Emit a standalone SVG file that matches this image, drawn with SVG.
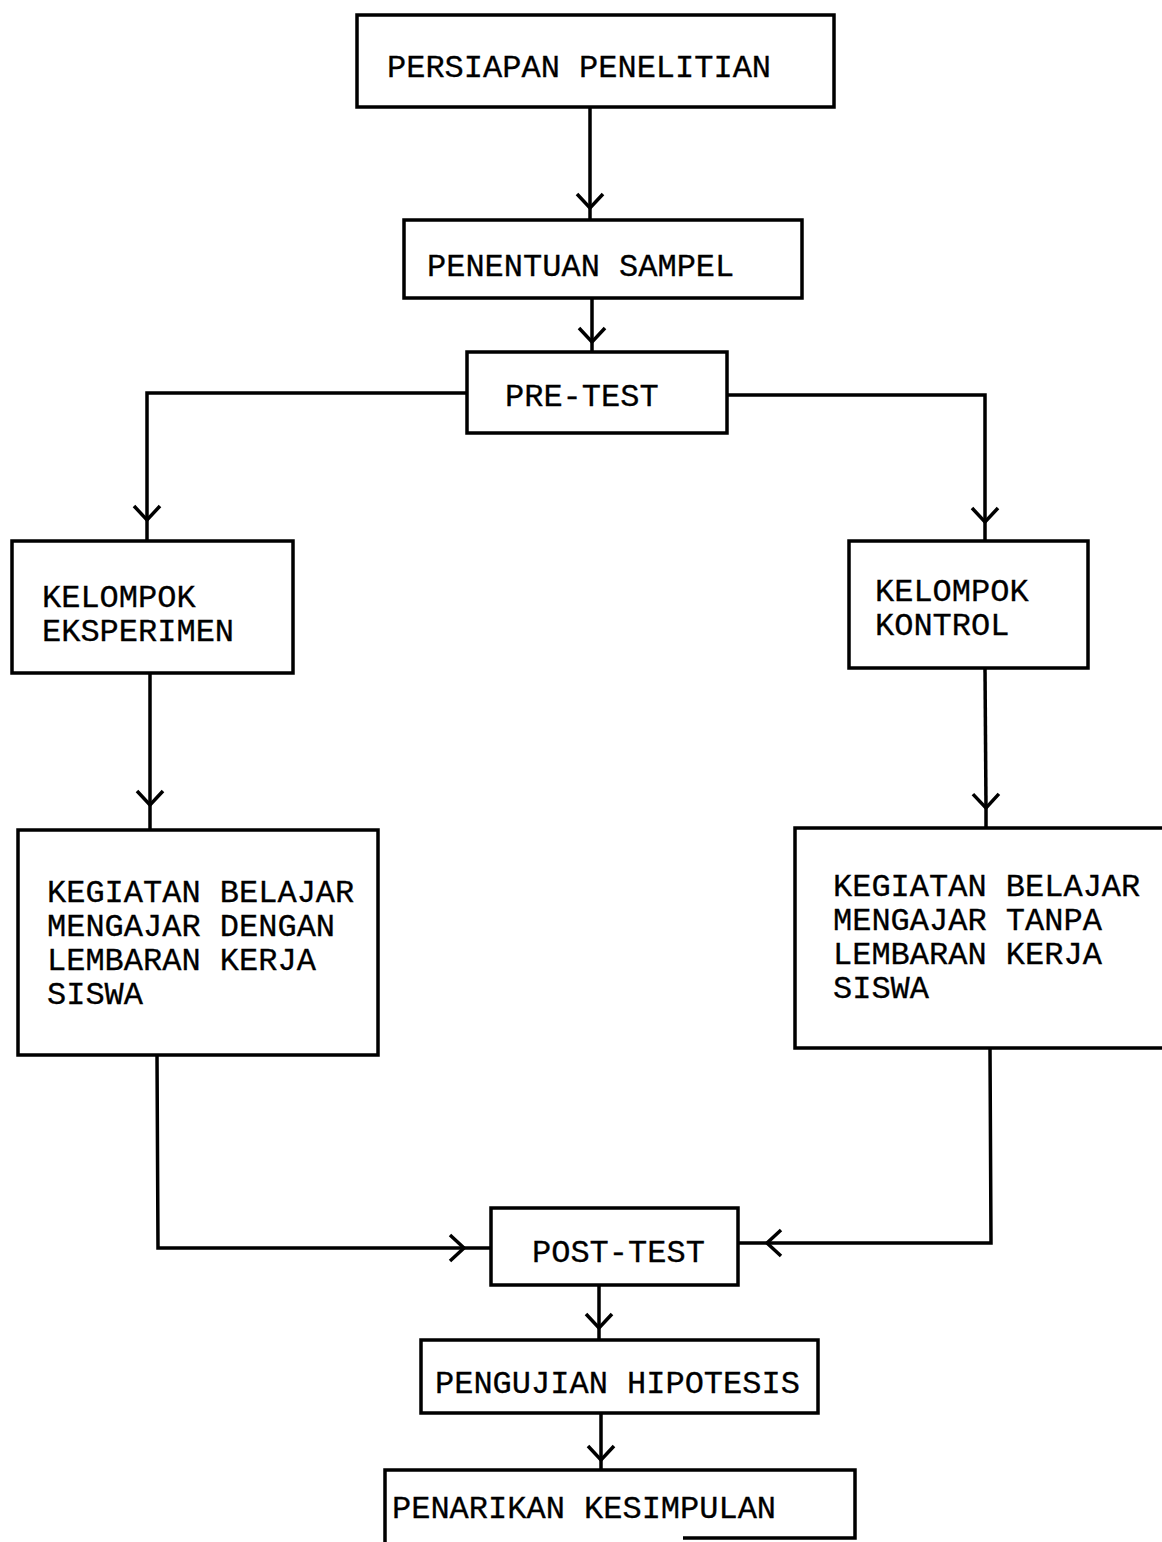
<svg xmlns="http://www.w3.org/2000/svg" width="1162" height="1542" viewBox="0 0 1162 1542">
<style>
.box{fill:#fff;stroke:#000;stroke-width:3.5}
.bx{fill:none;stroke:#000;stroke-width:3.5}
.t{font-family:"Liberation Mono","Courier New",monospace;font-size:32px;fill:#000;stroke:#000;stroke-width:0.3}
.c{fill:none;stroke:#000;stroke-width:3.5}
</style>
<defs>
<marker id="ah" markerUnits="userSpaceOnUse" orient="auto" overflow="visible" markerWidth="1" markerHeight="1" refX="0" refY="0">
<path d="M-14,-13 L0,0 L-14,13" fill="none" stroke="#000" stroke-width="3.5"/>
</marker>
</defs>
<rect width="1162" height="1542" fill="#fff"/>
<g id="connectors">
<path class="c" d="M590,107 L590,208" marker-end="url(#ah)"/><path class="c" d="M590,208 L590,220"/>
<path class="c" d="M592,298 L592,342" marker-end="url(#ah)"/><path class="c" d="M592,342 L592,352"/>
<path class="c" d="M467,393 L147,393 L147,520" marker-end="url(#ah)"/><path class="c" d="M147,520 L147,541"/>
<path class="c" d="M727,395 L985,395 L985,522" marker-end="url(#ah)"/><path class="c" d="M985,522 L985,541"/>
<path class="c" d="M150,673 L150,805" marker-end="url(#ah)"/><path class="c" d="M150,805 L150,830"/>
<path class="c" d="M985,668 L986,808" marker-end="url(#ah)"/><path class="c" d="M986,808 L986,828"/>
<path class="c" d="M157,1055 L158,1248 L464,1248" marker-end="url(#ah)"/><path class="c" d="M464,1248 L491,1248"/>
<path class="c" d="M990,1048 L991,1243 L767,1243" marker-end="url(#ah)"/><path class="c" d="M767,1243 L738,1243"/>
<path class="c" d="M599,1285 L599,1328" marker-end="url(#ah)"/><path class="c" d="M599,1328 L599,1340"/>
<path class="c" d="M601,1413 L601,1460" marker-end="url(#ah)"/><path class="c" d="M601,1460 L601,1470"/>
</g>
<g id="n1"><rect class="box" x="357" y="15" width="477" height="92"/><text class="t" x="387" y="77">PERSIAPAN PENELITIAN</text></g>
<g id="n2"><rect class="box" x="404" y="220" width="398" height="78"/><text class="t" x="427" y="276">PENENTUAN SAMPEL</text></g>
<g id="n3"><rect class="box" x="467" y="352" width="260" height="81"/><text class="t" x="505" y="406">PRE-TEST</text></g>
<g id="n4"><rect class="box" x="12" y="541" width="281" height="132"/><text class="t" x="42" y="607">KELOMPOK</text><text class="t" x="42" y="641">EKSPERIMEN</text></g>
<g id="n5"><rect class="box" x="849" y="541" width="239" height="127"/><text class="t" x="875" y="601">KELOMPOK</text><text class="t" x="875" y="635">KONTROL</text></g>
<g id="n6"><rect class="box" x="18" y="830" width="360" height="225"/><text class="t" x="47" y="902">KEGIATAN BELAJAR</text><text class="t" x="47" y="936">MENGAJAR DENGAN</text><text class="t" x="47" y="970">LEMBARAN KERJA</text><text class="t" x="47" y="1004">SISWA</text></g>
<g id="n7"><path class="bx" d="M1162,828 L795,828 L795,1048 L1162,1048"/><text class="t" x="833" y="896">KEGIATAN BELAJAR</text><text class="t" x="833" y="930">MENGAJAR TANPA</text><text class="t" x="833" y="964">LEMBARAN KERJA</text><text class="t" x="833" y="998">SISWA</text></g>
<g id="n8"><rect class="box" x="491" y="1208" width="247" height="77"/><text class="t" x="532" y="1262">POST-TEST</text></g>
<g id="n9"><rect class="box" x="421" y="1340" width="397" height="73"/><text class="t" x="435" y="1393">PENGUJIAN HIPOTESIS</text></g>
<g id="n10"><path class="bx" d="M385,1542 L385,1470 L855,1470 L855,1538 L683,1538"/><text class="t" x="392" y="1518">PENARIKAN KESIMPULAN</text></g>
</svg>
